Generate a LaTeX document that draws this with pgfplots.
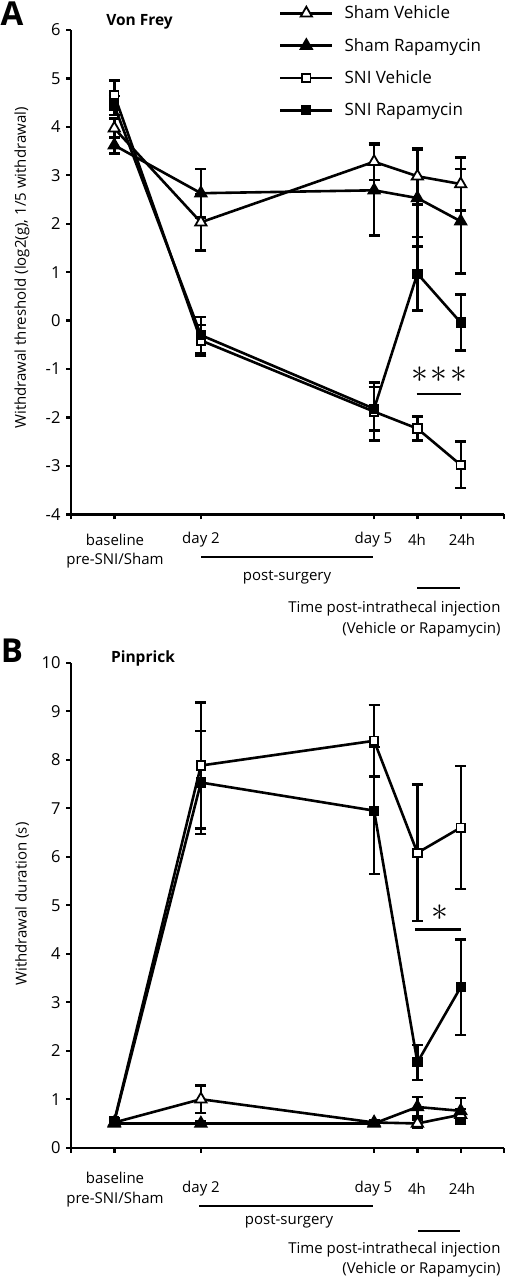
\documentclass[border=0pt]{standalone}
\usepackage{pgfplots}
\pgfplotsset{compat=1.18}
\usepackage{fontspec}
\setmainfont{Open Sans}
\pgfplotsset{
  myax/.style={
    scale only axis, width=433pt, xmin=0, xmax=10,
    axis lines=left, axis line style={-, line width=2.4pt},
    xtick={0,1,3,7,8,9,10}, xticklabels={},
    tick align=outside, major tick length=5pt,
    tick style={line width=2.4pt, black},
    clip=false,
    yticklabel style={font=\fontsize{16.5}{16.5}\selectfont, xshift=-2pt},
    /pgf/number format/assume math mode=true,
    legend image code/.code={\draw[#1, mark repeat=2, mark phase=2] plot coordinates {(0pt,0pt) (26pt,0pt) (52pt,0pt)};},
  },
  ser/.style={black, line width=2.6pt,
    /pgfplots/error bars/y dir=both, /pgfplots/error bars/y explicit,
    /pgfplots/error bars/error bar style={line width=2.4pt, black},
    /pgfplots/error bars/error mark options={rotate=90, mark size=5.5pt, line width=2.4pt, black}},
  shamveh/.style={ser, mark=triangle*, mark size=6.5pt, mark options={fill=white, line width=1.8pt}},
  shamrap/.style={ser, mark=triangle*, mark size=6.5pt, mark options={fill=black, line width=1.8pt}},
  sniveh/.style={ser, mark=square*, mark size=4.2pt, mark options={fill=white, line width=1.8pt}},
  snirap/.style={ser, mark=square*, mark size=4.2pt, mark options={fill=black, line width=1.8pt}},
}
\newcommand{\lab}{\fontsize{15}{15}\selectfont}
\begin{document}
\begin{tikzpicture}
\useasboundingbox (0,0) rectangle (506pt,-1280pt);
% ---------------- Panel A ----------------
\begin{axis}[myax, at={(71pt,-514.3pt)}, anchor=south west, height=484.3pt,
  ymin=-4, ymax=6, ytick={-4,-3,...,6},
  legend style={at={(0.48,1.054)}, anchor=north west, draw=none, fill=none,
    font=\fontsize{17}{17}\selectfont, row sep=14pt, column sep=9pt, inner sep=0pt},
  legend cell align=left]
\addplot[shamveh] coordinates {(1,3.97)+-(0,0.2) (3,2.03)+-(0,0.58) (7,3.28)+-(0,0.38) (8,2.98)+-(0,0.58) (9,2.82)+-(0,0.55)};
\addlegendentry{Sham Vehicle}
\addplot[shamrap] coordinates {(1,3.62)+-(0,0.17) (3,2.63)+-(0,0.5) (7,2.69)+-(0,0.93) (8,2.53)+-(0,1.0) (9,2.05)+-(0,1.08)};
\addlegendentry{Sham Rapamycin}
\addplot[sniveh] coordinates {(1,4.66)+-(0,0.3) (3,-0.41)+-(0,0.32) (7,-1.88)+-(0,0.6) (8,-2.23)+-(0,0.25) (9,-2.98)+-(0,0.48)};
\addlegendentry{SNI Vehicle}
\addplot[snirap] coordinates {(1,4.44)+-(0,0.2) (3,-0.30)+-(0,0.38) (7,-1.82)+-(0,0.45) (8,0.97)+-(0,0.76) (9,-0.04)+-(0,0.58)};
\addlegendentry{SNI Rapamycin}
\draw[line width=2.4pt] (axis cs:7.98,-1.51) -- (axis cs:9,-1.51);
\node[scale=1.35, font=\fontsize{24.88}{24.88}\selectfont, inner sep=0pt] at (axis cs:8.5,-1.11) {$\ast\mkern-2.5mu\ast\mkern-2.5mu\ast$};
\end{axis}
\node[font=\fontsize{33}{33}\selectfont\bfseries] at (12pt,-14pt) {A};
\node[font=\fontsize{15.5}{15.5}\selectfont\bfseries] at (139.5pt,-22pt) {Von Frey};
\node[rotate=90, font=\fontsize{15}{15}\selectfont] at (22pt,-268pt) {Withdrawal threshold (log2(g), 1/5 withdrawal)};
\node[font=\lab] at (115pt,-540pt) {baseline};
\node[font=\lab] at (115pt,-561pt) {pre-SNI/Sham};
\node[font=\lab] at (201pt,-540pt) {day 2};
\node[font=\lab] at (373.5pt,-540pt) {day 5};
\node[font=\lab] at (417pt,-540pt) {4h};
\node[font=\lab] at (462pt,-540pt) {24h};
\draw[line width=2.4pt] (201pt,-557pt) -- (373pt,-557pt);
\node[font=\lab] at (287pt,-577pt) {post-surgery};
\draw[line width=2.4pt] (417pt,-588pt) -- (460pt,-588pt);
\node[font=\lab, anchor=east] at (504pt,-609pt) {Time post-intrathecal injection};
\node[font=\lab, anchor=east] at (504pt,-630pt) {(Vehicle or Rapamycin)};
% ---------------- Panel B ----------------
\begin{axis}[myax, at={(71pt,-1147.7pt)}, anchor=south west, height=485pt,
  ymin=0, ymax=10, ytick={0,1,...,10}]
\addplot[shamveh] coordinates {(1,0.52)+-(0,0.05) (3,1.0)+-(0,0.28) (7,0.52)+-(0,0.05) (8,0.5)+-(0,0.08) (9,0.68)+-(0,0.12)};
\addplot[shamrap] coordinates {(1,0.5)+-(0,0.05) (3,0.5)+-(0,0.05) (7,0.5)+-(0,0.05) (8,0.84)+-(0,0.2) (9,0.76)+-(0,0.26)};
\addplot[sniveh] coordinates {(1,0.55)+-(0,0.05) (3,7.88)+-(0,1.3) (7,8.39)+-(0,0.74) (8,6.08)+-(0,1.41) (9,6.6)+-(0,1.27)};
\addplot[snirap] coordinates {(1,0.54)+-(0,0.05) (3,7.53)+-(0,1.06) (7,6.95)+-(0,1.31) (8,1.76)+-(0,0.36) (9,3.31)+-(0,0.98)};
\draw[line width=2.4pt] (axis cs:7.95,4.5) -- (axis cs:9,4.5);
\node[scale=1.35, font=\fontsize{24.88}{24.88}\selectfont, inner sep=0pt] at (axis cs:8.52,4.85) {$\ast$};
\end{axis}
\node[font=\fontsize{33}{33}\selectfont\bfseries] at (12pt,-651pt) {B};
\node[font=\fontsize{15.5}{15.5}\selectfont\bfseries] at (143pt,-658pt) {Pinprick};
\node[rotate=90, font=\fontsize{15}{15}\selectfont] at (22pt,-904pt) {Withdrawal duration (s)};
\node[font=\lab] at (115pt,-1178pt) {baseline};
\node[font=\lab] at (115pt,-1200pt) {pre-SNI/Sham};
\node[font=\lab] at (201pt,-1189pt) {day 2};
\node[font=\lab] at (373.5pt,-1189pt) {day 5};
\node[font=\lab] at (417pt,-1189pt) {4h};
\node[font=\lab] at (462pt,-1189pt) {24h};
\draw[line width=2.4pt] (199pt,-1205.7pt) -- (373pt,-1205.7pt);
\node[font=\lab] at (289pt,-1221pt) {post-surgery};
\draw[line width=2.4pt] (418pt,-1231pt) -- (460pt,-1231pt);
\node[font=\lab, anchor=east] at (504pt,-1250pt) {Time post-intrathecal injection};
\node[font=\lab, anchor=east] at (504pt,-1270pt) {(Vehicle or Rapamycin)};
\end{tikzpicture}
\end{document}
